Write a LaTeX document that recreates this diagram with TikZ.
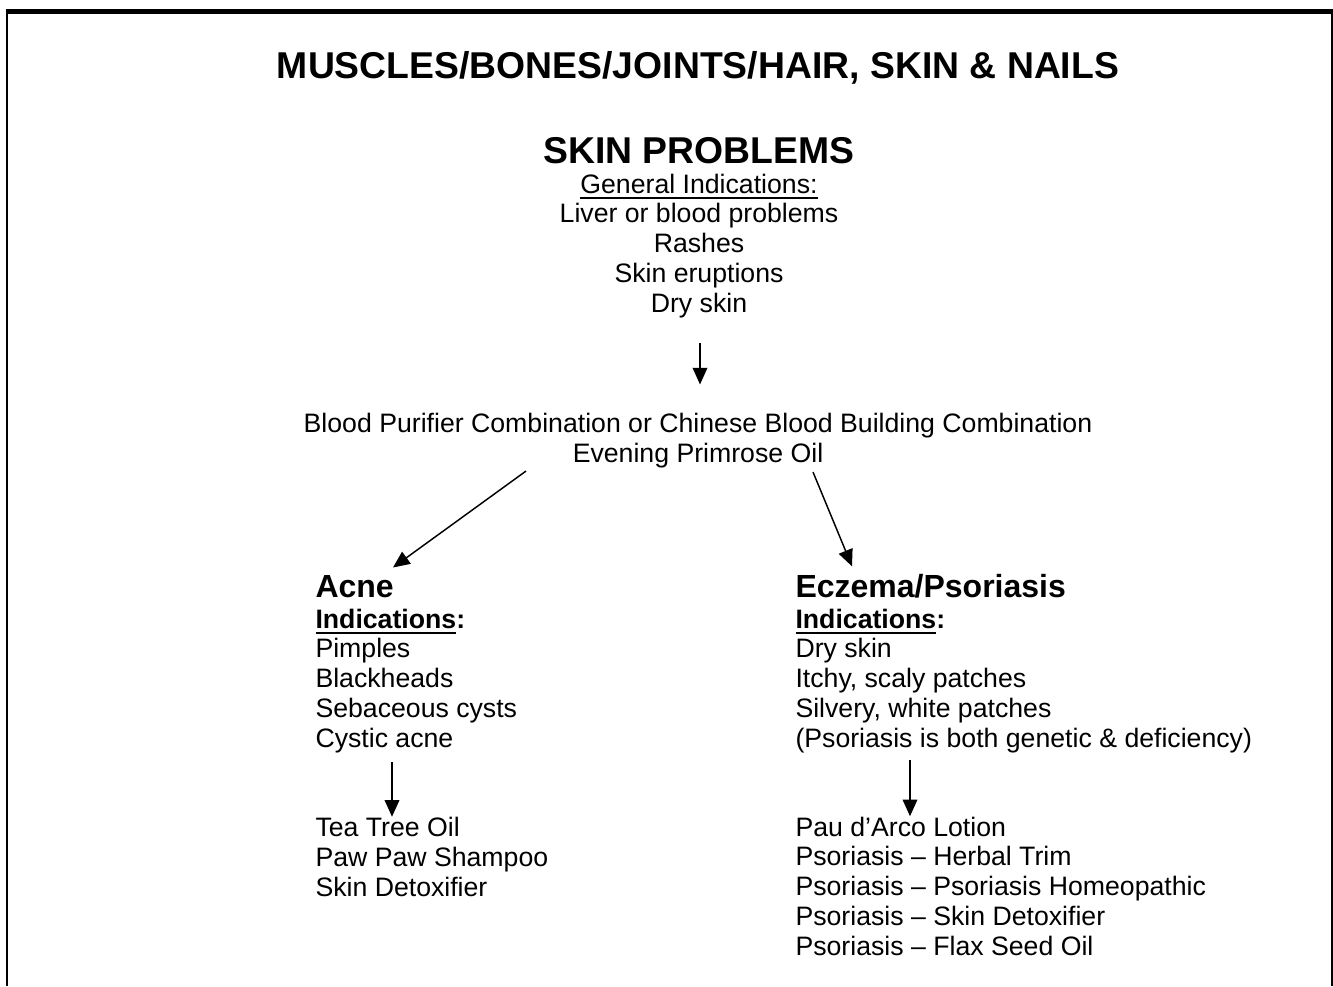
\documentclass[tikz,border=0pt]{standalone}
\usepackage{fontspec}
\setmainfont{Liberation Sans}
\usetikzlibrary{arrows.meta,calc}
\tikzset{every picture/.style={line width=0.75pt}}
\tikzset{
  body/.style={inner sep=0pt, font=\fontsize{20}{22.3}\selectfont},
  big/.style={inner sep=0pt, font=\fontsize{28}{33}\selectfont\bfseries},
  sub/.style={inner sep=0pt, font=\fontsize{24}{28}\selectfont\bfseries},
  arr/.style={line width=1.1pt, -{Triangle[length=12.5pt,width=11pt]}}
}
\newcommand{\undl}[1]{\setbox0\hbox{#1}\rlap{\rule[-4.3pt]{\wd0}{1.3pt}}\box0}

\begin{document}
\begin{tikzpicture}[x=0.75pt,y=0.75pt,yscale=-1,xscale=1]
\useasboundingbox (0,0) rectangle (1333,986);

%Straight Lines
\draw [line width=4pt] (6,11.25) -- (1333,11.25) ;
%Straight Lines
\draw [line width=1.5pt] (7,11.25) -- (7,986) ;
%Straight Lines
\draw [line width=1.5pt] (1332,11.25) -- (1332,986) ;

% Text Node
\draw (698,78) node [big, anchor=base] (title) {MUSCLES/BONES/JOINTS/HAIR, SKIN \& NAILS};
% Text Node
\draw (699,163) node [big, anchor=base] (skin) {SKIN PROBLEMS};
% Text Node  (base = last line)
\draw (699,312) node [body, anchor=base, align=center] (gen) {\undl{General Indications:}\\Liver or blood problems\\Rashes\\Skin eruptions\\Dry skin};
% Text Node
\draw (698,462) node [body, anchor=base, align=center] (rem) {Blood Purifier Combination or Chinese Blood Building Combination\\Evening Primrose Oil};

% Text Node
\draw (315,597) node [sub, anchor=base west] (acne) {Acne};
% Text Node
\draw (315,747) node [body, anchor=base west, align=left] (acnelist) {\textbf{\undl{Indications}:}\\Pimples\\Blackheads\\Sebaceous cysts\\Cystic acne};
% Text Node
\draw (315,896) node [body, anchor=base west, align=left] (acnerx) {Tea Tree Oil\\Paw Paw Shampoo\\Skin Detoxifier};

% Text Node
\draw (795,597) node [sub, anchor=base west] (ecz) {Eczema/Psoriasis};
% Text Node
\draw (795,747) node [body, anchor=base west, align=left] (eczlist) {\textbf{\undl{Indications}:}\\Dry skin\\Itchy, scaly patches\\Silvery, white patches\\(Psoriasis is both genetic \& deficiency)};
% Text Node
\draw (795,955) node [body, anchor=base west, align=left] (eczrx) {Pau d'Arco Lotion\\Psoriasis -- Herbal Trim\\Psoriasis -- Psoriasis Homeopathic\\Psoriasis -- Skin Detoxifier\\Psoriasis -- Flax Seed Oil};

%Straight Lines
\draw [arr] ($(gen.south)+(1,25)$) -- ($(rem.north)+(2,-28)$) ;
%Straight Lines
\draw [arr] ($(rem.south)+(-172,3)$) -- ($(acne.north west)+(78,-7)$) ;
%Straight Lines
\draw [arr] ($(rem.south)+(115,4)$) -- ($(ecz.north west)+(57,-7)$) ;
%Straight Lines
\draw [arr] ($(acnelist.south west)+(77,9)$) -- ($(acnerx.north west)+(77,0)$) ;
%Straight Lines
\draw [arr] ($(eczlist.south west)+(115,7)$) -- ($(eczrx.north west)+(115,0)$) ;

\end{tikzpicture}
\end{document}
